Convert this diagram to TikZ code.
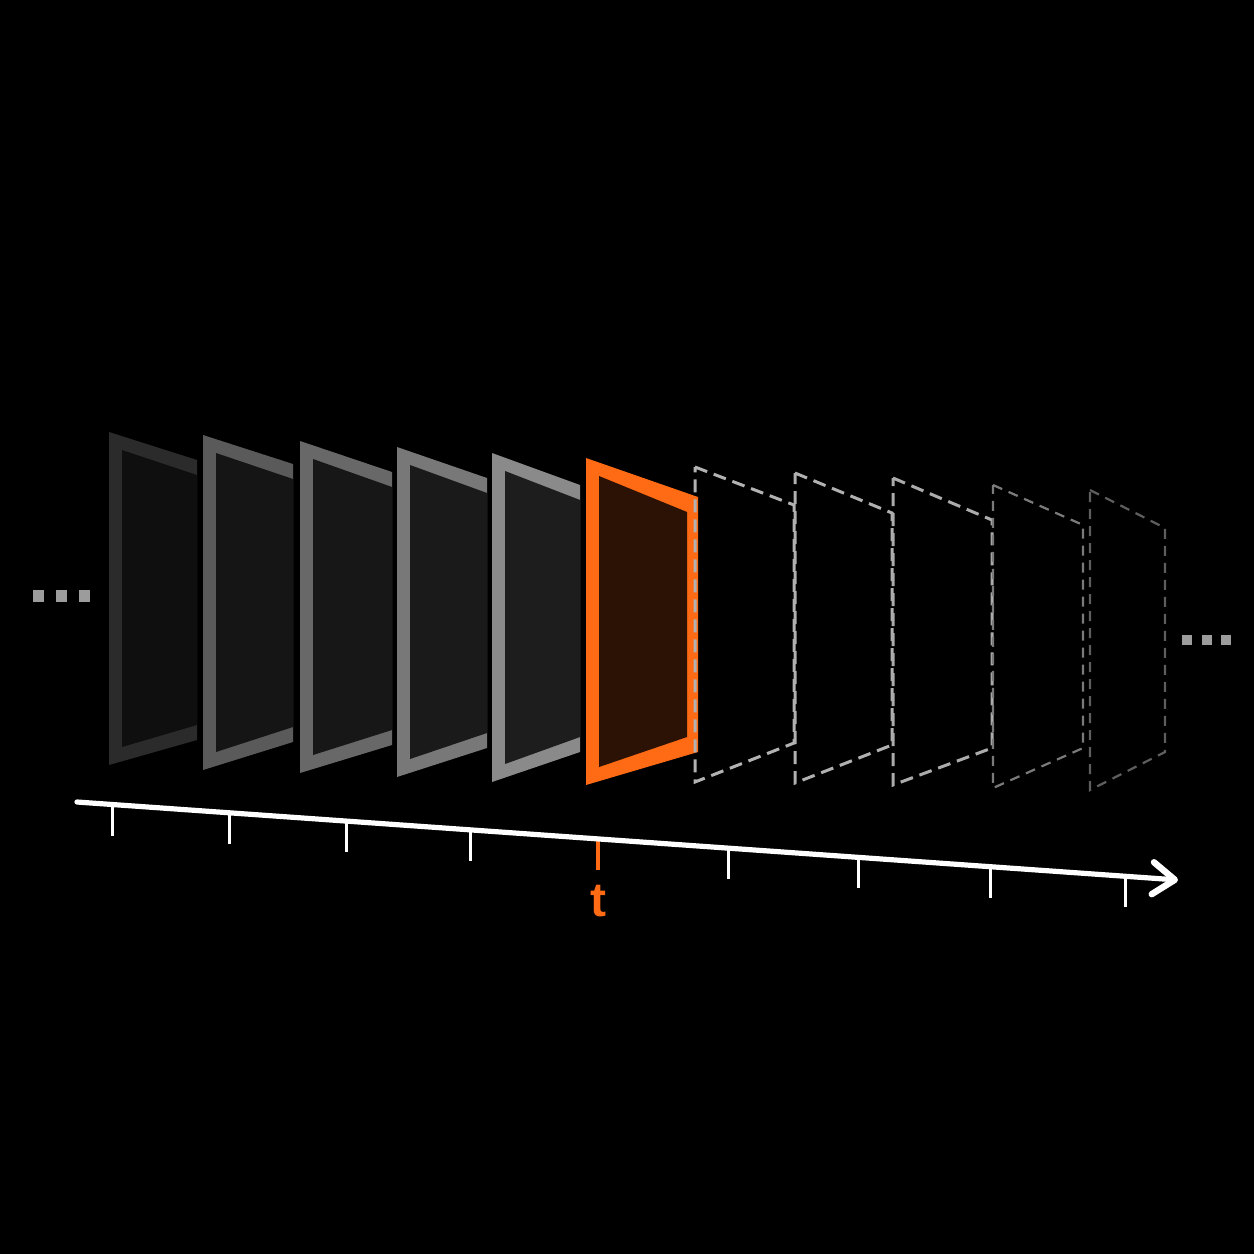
\documentclass[tikz,border=0pt]{standalone}
\usepackage{fontspec}
\setmainfont{Liberation Sans}
\usetikzlibrary{arrows.meta,calc}
\definecolor{org}{HTML}{FF6A14}
\definecolor{orgin}{HTML}{2C1204}
\definecolor{bA}{HTML}{2B2B2B}
\definecolor{bB}{HTML}{5A5A5A}
\definecolor{bC}{HTML}{686868}
\definecolor{bD}{HTML}{787878}
\definecolor{bE}{HTML}{8A8A8A}
\definecolor{iA}{HTML}{0F0F0F}
\definecolor{iB}{HTML}{151515}
\definecolor{iC}{HTML}{171717}
\definecolor{iD}{HTML}{1A1A1A}
\definecolor{iE}{HTML}{1D1D1D}
\definecolor{dotc}{HTML}{9C9C9C}
% #1 L, #2 R, #3 top-left y, #4 top-right y, #5 bottom-left y, #6 bottom-right y,
% #7 border colour, #8 fill colour, #9 inner right x
\newcommand\myframe[9]{%
  \fill[#7] (#1,#3) -- (#2,#4) -- (#2,#6) -- (#1,#5) -- cycle;
  \fill[#8] ({#1+13},{#3+18}) -- (#9,{#4+15}) -- (#9,{#6-15}) -- ({#1+13},{#5-18}) -- cycle;
}
\tikzset{
  dashA/.style={draw=#1, line width=1.5pt, dash pattern=on 6.5pt off 3.5pt, line join=miter},
  dashB/.style={draw=#1, line width=1.1pt, dash pattern=on 5pt off 3.5pt, line join=miter},
  sqdotL/.style={fill=dotc, minimum width=5.5pt, minimum height=6pt, inner sep=0pt, draw=none},
  sqdotR/.style={fill=dotc, minimum width=5pt, minimum height=5pt, inner sep=0pt, draw=none},
  axisline/.style={draw=white, line width=2.6pt, line cap=round,
    -{Straight Barb[length=11pt,width=16pt,line width=3.2pt,round]}},
  tickmark/.style={draw=white, line width=1.5pt},
  nowtick/.style={draw=org, line width=2pt},
}
\begin{document}
\begin{tikzpicture}[x=0.5pt,y=-0.5pt]
\fill[black] (0,0) rectangle (1254,1254);
\useasboundingbox (0,0) rectangle (1254,1254);

% past frames
\myframe{109}{197}{432}{460}{765}{740}{bA}{iA}{197}
\myframe{203}{293}{435}{464}{770}{742}{bB}{iB}{293}
\myframe{300}{392}{441}{472}{773}{745}{bC}{iC}{392}
\myframe{397}{487}{447}{478}{777}{748}{bD}{iD}{487}
\myframe{492}{580}{453}{485}{782}{752}{bE}{iE}{580}
% current frame
\myframe{586}{698}{458}{497}{785}{752}{org}{orgin}{687}

% future frames
\draw[dashA={white!70!black}] (695,467) -- (794,505) -- (794,743) -- (695,782) -- cycle;
\draw[dashA={white!69!black}] (795,473) -- (892,513) -- (892,745) -- (795,783) -- cycle;
\draw[dashA={white!67!black}] (893,478) -- (992,520) -- (992,748) -- (893,785) -- cycle;
\draw[dashB={white!48!black}] (993,485) -- (1083,525) -- (1083,748) -- (993,788) -- cycle;
\draw[dashB={white!37!black}] (1090,490) -- (1165,528) -- (1165,752) -- (1090,790) -- cycle;

% ellipses
\node[sqdotL] (l1) at (38.5,596) {};
\node[sqdotL] (l2) at (61.5,596) {};
\node[sqdotL] (l3) at (84.5,596) {};
\node[sqdotR] (r1) at (1187,640) {};
\node[sqdotR] (r2) at (1206.5,640) {};
\node[sqdotR] (r3) at (1225.5,640) {};

% time axis
\coordinate (ax0) at (77,802);
\coordinate (ax1) at (1178,880);
\coordinate (now) at ($(ax0)!{(598-77)/1101}!(ax1)$);
\draw[nowtick] (now) -- ($(now)+(0,31)$) coordinate (nowend);
\draw[axisline] (ax0) -- (ax1);
\foreach \x [count=\i] in {113,230,347,471,728,859,991,1125} {
  \coordinate (tk\i) at ($(ax0)!{(\x-77)/1101}!(ax1)$);
  \draw[tickmark] (tk\i) -- ($(tk\i)+(0,31)$);
}
\node[text=org, font=\fontsize{24}{28}\selectfont\bfseries, anchor=base, inner sep=0pt] (tlabel) at (598,916) {t};
\end{tikzpicture}
\end{document}
